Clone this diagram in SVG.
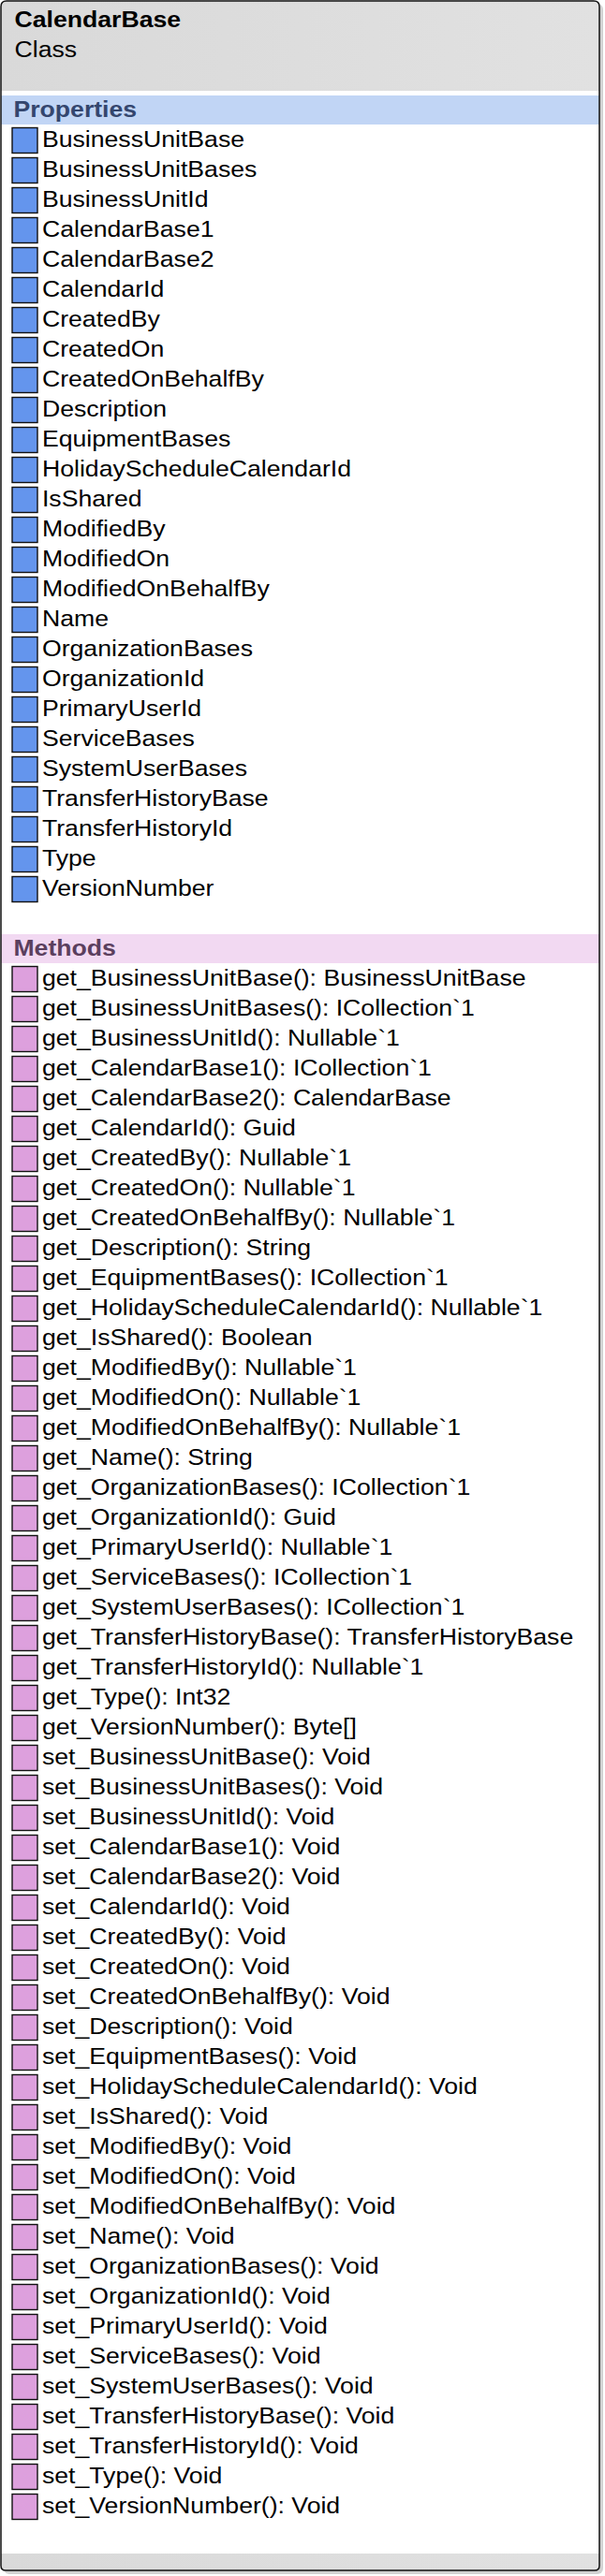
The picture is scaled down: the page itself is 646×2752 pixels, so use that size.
<svg xmlns="http://www.w3.org/2000/svg" width="646" height="2752" viewBox="0 0 646 2752">
<style>
text{font-family:"Liberation Sans",Arial,Helvetica,sans-serif;font-size:24px;fill:#000}
.title{font-weight:bold}
.sec{font-weight:bold}
.psec{fill:#34466e}
.msec{fill:#5b3f5e}
.pi{fill:#6495ed;stroke:#111;stroke-width:1.4}
.mi{fill:#dda0dd;stroke:#111;stroke-width:1.4}
</style>
<defs>
<linearGradient id="hdr" x1="0" y1="0" x2="1" y2="0">
<stop offset="0" stop-color="#d9d9d9"/>
<stop offset="1" stop-color="#e1e1e1"/>
</linearGradient>
</defs>
<g id="CalendarBase">
<rect x="4" y="4" width="640" height="2746" rx="6" fill="#d2d2d2"/>
<path d="M1,7 Q1,1 7,1 L634,1 Q640,1 640,7 L640,2741 Q640,2746 635,2746 L6,2746 Q1,2746 1,2741 Z" fill="#fff"/>
<path d="M1,7 Q1,1 7,1 L634,1 Q640,1 640,7 L640,97 L1,97 Z" fill="url(#hdr)"/>
<rect x="1" y="102" width="639" height="31" fill="#c1d5f5"/>
<rect x="1" y="998" width="639" height="31" fill="#f2d9f2"/>
<path d="M1,2728 L640,2728 L640,2741 Q640,2746 635,2746 L6,2746 Q1,2746 1,2741 Z" fill="url(#hdr)"/>
<path d="M1,7 Q1,1 7,1 L634,1 Q640,1 640,7 L640,2741 Q640,2746 635,2746 L6,2746 Q1,2746 1,2741 Z" fill="none" stroke="#111" stroke-width="1.5"/>
<g id="icons">
<rect class="pi" x="13" y="136.5" width="27" height="27"/>
<rect class="pi" x="13" y="168.5" width="27" height="27"/>
<rect class="pi" x="13" y="200.5" width="27" height="27"/>
<rect class="pi" x="13" y="232.5" width="27" height="27"/>
<rect class="pi" x="13" y="264.5" width="27" height="27"/>
<rect class="pi" x="13" y="296.5" width="27" height="27"/>
<rect class="pi" x="13" y="328.5" width="27" height="27"/>
<rect class="pi" x="13" y="360.5" width="27" height="27"/>
<rect class="pi" x="13" y="392.5" width="27" height="27"/>
<rect class="pi" x="13" y="424.5" width="27" height="27"/>
<rect class="pi" x="13" y="456.5" width="27" height="27"/>
<rect class="pi" x="13" y="488.5" width="27" height="27"/>
<rect class="pi" x="13" y="520.5" width="27" height="27"/>
<rect class="pi" x="13" y="552.5" width="27" height="27"/>
<rect class="pi" x="13" y="584.5" width="27" height="27"/>
<rect class="pi" x="13" y="616.5" width="27" height="27"/>
<rect class="pi" x="13" y="648.5" width="27" height="27"/>
<rect class="pi" x="13" y="680.5" width="27" height="27"/>
<rect class="pi" x="13" y="712.5" width="27" height="27"/>
<rect class="pi" x="13" y="744.5" width="27" height="27"/>
<rect class="pi" x="13" y="776.5" width="27" height="27"/>
<rect class="pi" x="13" y="808.5" width="27" height="27"/>
<rect class="pi" x="13" y="840.5" width="27" height="27"/>
<rect class="pi" x="13" y="872.5" width="27" height="27"/>
<rect class="pi" x="13" y="904.5" width="27" height="27"/>
<rect class="pi" x="13" y="936.5" width="27" height="27"/>
<rect class="mi" x="13" y="1032.5" width="27" height="27"/>
<rect class="mi" x="13" y="1064.5" width="27" height="27"/>
<rect class="mi" x="13" y="1096.5" width="27" height="27"/>
<rect class="mi" x="13" y="1128.5" width="27" height="27"/>
<rect class="mi" x="13" y="1160.5" width="27" height="27"/>
<rect class="mi" x="13" y="1192.5" width="27" height="27"/>
<rect class="mi" x="13" y="1224.5" width="27" height="27"/>
<rect class="mi" x="13" y="1256.5" width="27" height="27"/>
<rect class="mi" x="13" y="1288.5" width="27" height="27"/>
<rect class="mi" x="13" y="1320.5" width="27" height="27"/>
<rect class="mi" x="13" y="1352.5" width="27" height="27"/>
<rect class="mi" x="13" y="1384.5" width="27" height="27"/>
<rect class="mi" x="13" y="1416.5" width="27" height="27"/>
<rect class="mi" x="13" y="1448.5" width="27" height="27"/>
<rect class="mi" x="13" y="1480.5" width="27" height="27"/>
<rect class="mi" x="13" y="1512.5" width="27" height="27"/>
<rect class="mi" x="13" y="1544.5" width="27" height="27"/>
<rect class="mi" x="13" y="1576.5" width="27" height="27"/>
<rect class="mi" x="13" y="1608.5" width="27" height="27"/>
<rect class="mi" x="13" y="1640.5" width="27" height="27"/>
<rect class="mi" x="13" y="1672.5" width="27" height="27"/>
<rect class="mi" x="13" y="1704.5" width="27" height="27"/>
<rect class="mi" x="13" y="1736.5" width="27" height="27"/>
<rect class="mi" x="13" y="1768.5" width="27" height="27"/>
<rect class="mi" x="13" y="1800.5" width="27" height="27"/>
<rect class="mi" x="13" y="1832.5" width="27" height="27"/>
<rect class="mi" x="13" y="1864.5" width="27" height="27"/>
<rect class="mi" x="13" y="1896.5" width="27" height="27"/>
<rect class="mi" x="13" y="1928.5" width="27" height="27"/>
<rect class="mi" x="13" y="1960.5" width="27" height="27"/>
<rect class="mi" x="13" y="1992.5" width="27" height="27"/>
<rect class="mi" x="13" y="2024.5" width="27" height="27"/>
<rect class="mi" x="13" y="2056.5" width="27" height="27"/>
<rect class="mi" x="13" y="2088.5" width="27" height="27"/>
<rect class="mi" x="13" y="2120.5" width="27" height="27"/>
<rect class="mi" x="13" y="2152.5" width="27" height="27"/>
<rect class="mi" x="13" y="2184.5" width="27" height="27"/>
<rect class="mi" x="13" y="2216.5" width="27" height="27"/>
<rect class="mi" x="13" y="2248.5" width="27" height="27"/>
<rect class="mi" x="13" y="2280.5" width="27" height="27"/>
<rect class="mi" x="13" y="2312.5" width="27" height="27"/>
<rect class="mi" x="13" y="2344.5" width="27" height="27"/>
<rect class="mi" x="13" y="2376.5" width="27" height="27"/>
<rect class="mi" x="13" y="2408.5" width="27" height="27"/>
<rect class="mi" x="13" y="2440.5" width="27" height="27"/>
<rect class="mi" x="13" y="2472.5" width="27" height="27"/>
<rect class="mi" x="13" y="2504.5" width="27" height="27"/>
<rect class="mi" x="13" y="2536.5" width="27" height="27"/>
<rect class="mi" x="13" y="2568.5" width="27" height="27"/>
<rect class="mi" x="13" y="2600.5" width="27" height="27"/>
<rect class="mi" x="13" y="2632.5" width="27" height="27"/>
<rect class="mi" x="13" y="2664.5" width="27" height="27"/>
</g>
<g id="labels" transform="scale(1.11,1)">
<text class="title" x="14" y="29.5">CalendarBase</text>
<text x="14" y="61.5">Class</text>
<text class="sec psec" x="13" y="125">Properties</text>
<text class="sec msec" x="13" y="1021.5">Methods</text>
<text x="40.5" y="157">BusinessUnitBase</text>
<text x="40.5" y="189">BusinessUnitBases</text>
<text x="40.5" y="221">BusinessUnitId</text>
<text x="40.5" y="253">CalendarBase1</text>
<text x="40.5" y="285">CalendarBase2</text>
<text x="40.5" y="317">CalendarId</text>
<text x="40.5" y="349">CreatedBy</text>
<text x="40.5" y="381">CreatedOn</text>
<text x="40.5" y="413">CreatedOnBehalfBy</text>
<text x="40.5" y="445">Description</text>
<text x="40.5" y="477">EquipmentBases</text>
<text x="40.5" y="509">HolidayScheduleCalendarId</text>
<text x="40.5" y="541">IsShared</text>
<text x="40.5" y="573">ModifiedBy</text>
<text x="40.5" y="605">ModifiedOn</text>
<text x="40.5" y="637">ModifiedOnBehalfBy</text>
<text x="40.5" y="669">Name</text>
<text x="40.5" y="701">OrganizationBases</text>
<text x="40.5" y="733">OrganizationId</text>
<text x="40.5" y="765">PrimaryUserId</text>
<text x="40.5" y="797">ServiceBases</text>
<text x="40.5" y="829">SystemUserBases</text>
<text x="40.5" y="861">TransferHistoryBase</text>
<text x="40.5" y="893">TransferHistoryId</text>
<text x="40.5" y="925">Type</text>
<text x="40.5" y="957">VersionNumber</text>
<text x="40.5" y="1053">get_BusinessUnitBase(): BusinessUnitBase</text>
<text x="40.5" y="1085">get_BusinessUnitBases(): ICollection`1</text>
<text x="40.5" y="1117">get_BusinessUnitId(): Nullable`1</text>
<text x="40.5" y="1149">get_CalendarBase1(): ICollection`1</text>
<text x="40.5" y="1181">get_CalendarBase2(): CalendarBase</text>
<text x="40.5" y="1213">get_CalendarId(): Guid</text>
<text x="40.5" y="1245">get_CreatedBy(): Nullable`1</text>
<text x="40.5" y="1277">get_CreatedOn(): Nullable`1</text>
<text x="40.5" y="1309">get_CreatedOnBehalfBy(): Nullable`1</text>
<text x="40.5" y="1341">get_Description(): String</text>
<text x="40.5" y="1373">get_EquipmentBases(): ICollection`1</text>
<text x="40.5" y="1405">get_HolidayScheduleCalendarId(): Nullable`1</text>
<text x="40.5" y="1437">get_IsShared(): Boolean</text>
<text x="40.5" y="1469">get_ModifiedBy(): Nullable`1</text>
<text x="40.5" y="1501">get_ModifiedOn(): Nullable`1</text>
<text x="40.5" y="1533">get_ModifiedOnBehalfBy(): Nullable`1</text>
<text x="40.5" y="1565">get_Name(): String</text>
<text x="40.5" y="1597">get_OrganizationBases(): ICollection`1</text>
<text x="40.5" y="1629">get_OrganizationId(): Guid</text>
<text x="40.5" y="1661">get_PrimaryUserId(): Nullable`1</text>
<text x="40.5" y="1693">get_ServiceBases(): ICollection`1</text>
<text x="40.5" y="1725">get_SystemUserBases(): ICollection`1</text>
<text x="40.5" y="1757">get_TransferHistoryBase(): TransferHistoryBase</text>
<text x="40.5" y="1789">get_TransferHistoryId(): Nullable`1</text>
<text x="40.5" y="1821">get_Type(): Int32</text>
<text x="40.5" y="1853">get_VersionNumber(): Byte[]</text>
<text x="40.5" y="1885">set_BusinessUnitBase(): Void</text>
<text x="40.5" y="1917">set_BusinessUnitBases(): Void</text>
<text x="40.5" y="1949">set_BusinessUnitId(): Void</text>
<text x="40.5" y="1981">set_CalendarBase1(): Void</text>
<text x="40.5" y="2013">set_CalendarBase2(): Void</text>
<text x="40.5" y="2045">set_CalendarId(): Void</text>
<text x="40.5" y="2077">set_CreatedBy(): Void</text>
<text x="40.5" y="2109">set_CreatedOn(): Void</text>
<text x="40.5" y="2141">set_CreatedOnBehalfBy(): Void</text>
<text x="40.5" y="2173">set_Description(): Void</text>
<text x="40.5" y="2205">set_EquipmentBases(): Void</text>
<text x="40.5" y="2237">set_HolidayScheduleCalendarId(): Void</text>
<text x="40.5" y="2269">set_IsShared(): Void</text>
<text x="40.5" y="2301">set_ModifiedBy(): Void</text>
<text x="40.5" y="2333">set_ModifiedOn(): Void</text>
<text x="40.5" y="2365">set_ModifiedOnBehalfBy(): Void</text>
<text x="40.5" y="2397">set_Name(): Void</text>
<text x="40.5" y="2429">set_OrganizationBases(): Void</text>
<text x="40.5" y="2461">set_OrganizationId(): Void</text>
<text x="40.5" y="2493">set_PrimaryUserId(): Void</text>
<text x="40.5" y="2525">set_ServiceBases(): Void</text>
<text x="40.5" y="2557">set_SystemUserBases(): Void</text>
<text x="40.5" y="2589">set_TransferHistoryBase(): Void</text>
<text x="40.5" y="2621">set_TransferHistoryId(): Void</text>
<text x="40.5" y="2653">set_Type(): Void</text>
<text x="40.5" y="2685">set_VersionNumber(): Void</text>
</g>
</g>
<g id="connectors"/>
</svg>
